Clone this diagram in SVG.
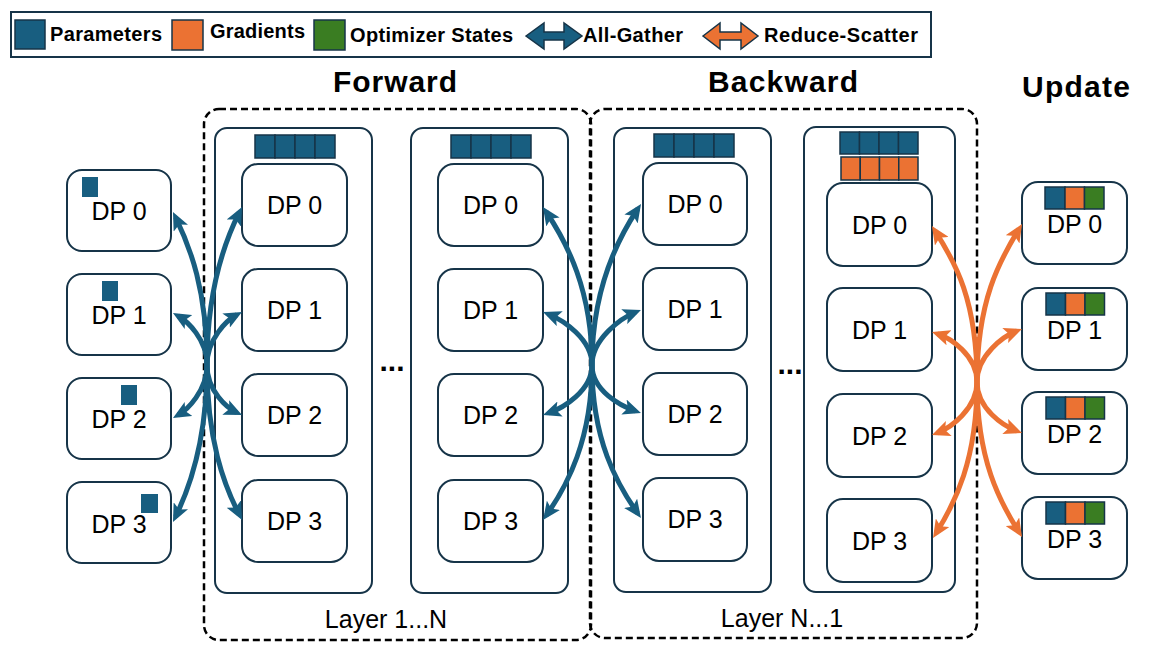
<svg xmlns="http://www.w3.org/2000/svg" width="1163" height="654" viewBox="0 0 1163 654">
<style>
text{font-family:"Liberation Sans",Arial,sans-serif;fill:#000}
.lt{font-size:20px;font-weight:bold}
.ttl{font-size:30px;font-weight:bold;text-anchor:middle}
.dp{font-size:25px;text-anchor:middle}
.lay{font-size:25px;text-anchor:middle}
.dots{font-size:30px;font-weight:bold;text-anchor:middle}
.box{fill:#fff;stroke:#163448;stroke-width:2}
.layer{fill:#fff;stroke:#163448;stroke-width:2}
.dash{fill:none;stroke:#000;stroke-width:2.5;stroke-dasharray:7 4}
.p{fill:#185e80;stroke:#163448;stroke-width:1.5}
.g{fill:#eb7233;stroke:#163448;stroke-width:1.5}
.o{fill:#3a7d22;stroke:#163448;stroke-width:1.5}
.ps{fill:#185e80}
.ab{fill:none;stroke:#185e80;stroke-width:5;marker-end:url(#hb)}
.ao{fill:none;stroke:#eb7233;stroke-width:5;marker-end:url(#ho)}
</style>
<defs>
<marker id="hb" markerUnits="userSpaceOnUse" markerWidth="18" markerHeight="16" refX="12" refY="8" orient="auto" viewBox="0 0 18 16"><path d="M0,0 L18,8 L0,16 L4,8 z" fill="#185e80"/></marker>
<marker id="ho" markerUnits="userSpaceOnUse" markerWidth="18" markerHeight="16" refX="12" refY="8" orient="auto" viewBox="0 0 18 16"><path d="M0,0 L18,8 L0,16 L4,8 z" fill="#eb7233"/></marker>
</defs>
<rect width="1163" height="654" fill="#fff"/>

<g id="legend">
<rect x="11" y="12" width="920" height="45" fill="#fff" stroke="#163448" stroke-width="2"/>
<rect class="p" x="15" y="20" width="30" height="29"/>
<text class="lt" x="50" y="41" textLength="112">Parameters</text>
<rect class="g" x="172" y="20" width="31" height="30"/>
<text class="lt" x="210" y="38" textLength="95">Gradients</text>
<rect class="o" x="314" y="20" width="31" height="30"/>
<text class="lt" x="350" y="42" textLength="163">Optimizer States</text>
<polygon points="526,36 544,23 544,32 564,32 564,23 582,36 564,49 564,40 544,40 544,49" fill="#185e80" stroke="#163448" stroke-width="1.5"/>
<text class="lt" x="583" y="42" textLength="100">All-Gather</text>
<polygon points="703,36 720,23 720,32 741,32 741,23 758,36 741,49 741,40 720,40 720,49" fill="#eb7233" stroke="#163448" stroke-width="1.5"/>
<text class="lt" x="764" y="42" textLength="154">Reduce-Scatter</text>
</g>

<g id="titles">
<text class="ttl" x="395" y="92" textLength="124">Forward</text>
<text class="ttl" x="783" y="92" textLength="150">Backward</text>
<text class="ttl" x="1076" y="97" textLength="108">Update</text>
</g>

<g id="forward-group">
<rect class="dash" x="204" y="109" width="387" height="531" rx="15"/>
<text class="lay" x="386" y="628">Layer 1...N</text>
</g>
<g id="backward-group">
<rect class="dash" x="590" y="109" width="387" height="529" rx="15"/>
<text class="lay" x="782" y="627">Layer N...1</text>
</g>

<g id="fwd-layer1">
<rect class="layer" x="215" y="128" width="157" height="465" rx="12"/>
<rect class="p" x="255" y="135" width="20" height="23"/><rect class="p" x="275" y="135" width="20" height="23"/><rect class="p" x="295" y="135" width="20" height="23"/><rect class="p" x="315" y="135" width="20" height="23"/>
</g>
<g id="fwd-layerN">
<rect class="layer" x="411" y="128" width="157" height="465" rx="12"/>
<rect class="p" x="451" y="135" width="20" height="23"/><rect class="p" x="471" y="135" width="20" height="23"/><rect class="p" x="491" y="135" width="20" height="23"/><rect class="p" x="511" y="135" width="20" height="23"/>
</g>
<g id="bwd-layerN">
<rect class="layer" x="614" y="128" width="157" height="464" rx="12"/>
<rect class="p" x="654" y="134" width="20" height="23"/><rect class="p" x="674" y="134" width="20" height="23"/><rect class="p" x="694" y="134" width="20" height="23"/><rect class="p" x="714" y="134" width="20" height="23"/>
</g>
<g id="bwd-layer1">
<rect class="layer" x="804" y="127" width="151" height="465" rx="12"/>
<rect class="p" x="840" y="132" width="19.5" height="22"/><rect class="p" x="859.5" y="132" width="19.5" height="22"/><rect class="p" x="879" y="132" width="19.5" height="22"/><rect class="p" x="898.5" y="132" width="19.5" height="22"/>
<rect class="g" x="841" y="157" width="19.25" height="23"/><rect class="g" x="860.25" y="157" width="19.25" height="23"/><rect class="g" x="879.5" y="157" width="19.25" height="23"/><rect class="g" x="898.75" y="157" width="19.25" height="23"/>
</g>

<g id="ellipses">
<text class="dots" x="392" y="371">...</text>
<text class="dots" x="790" y="374">...</text>
</g>

<g id="left-dp0"><rect class="box" x="67" y="170" width="104" height="81" rx="15"/><rect class="ps" x="82" y="177" width="16" height="20"/><text class="dp" x="119" y="220">DP 0</text></g>
<g id="left-dp1"><rect class="box" x="67" y="274" width="104" height="81" rx="15"/><rect class="ps" x="102" y="281" width="16" height="20"/><text class="dp" x="119" y="324">DP 1</text></g>
<g id="left-dp2"><rect class="box" x="67" y="378" width="104" height="81" rx="15"/><rect class="ps" x="121" y="385" width="16" height="20"/><text class="dp" x="119" y="428">DP 2</text></g>
<g id="left-dp3"><rect class="box" x="67" y="482" width="104" height="81" rx="15"/><rect class="ps" x="141" y="494" width="17" height="19"/><text class="dp" x="119" y="533">DP 3</text></g>

<g id="f1-dp0"><rect class="box" x="242" y="164" width="105" height="82" rx="16"/><text class="dp" x="294.5" y="214">DP 0</text></g>
<g id="f1-dp1"><rect class="box" x="242" y="269" width="105" height="82" rx="16"/><text class="dp" x="294.5" y="319">DP 1</text></g>
<g id="f1-dp2"><rect class="box" x="242" y="374" width="105" height="82" rx="16"/><text class="dp" x="294.5" y="424">DP 2</text></g>
<g id="f1-dp3"><rect class="box" x="242" y="480" width="105" height="82" rx="16"/><text class="dp" x="294.5" y="530">DP 3</text></g>

<g id="fN-dp0"><rect class="box" x="438" y="164" width="105" height="82" rx="16"/><text class="dp" x="490.5" y="214">DP 0</text></g>
<g id="fN-dp1"><rect class="box" x="438" y="269" width="105" height="82" rx="16"/><text class="dp" x="490.5" y="319">DP 1</text></g>
<g id="fN-dp2"><rect class="box" x="438" y="374" width="105" height="82" rx="16"/><text class="dp" x="490.5" y="424">DP 2</text></g>
<g id="fN-dp3"><rect class="box" x="438" y="480" width="105" height="82" rx="16"/><text class="dp" x="490.5" y="530">DP 3</text></g>

<g id="bN-dp0"><rect class="box" x="643" y="163" width="104" height="82" rx="16"/><text class="dp" x="695" y="213">DP 0</text></g>
<g id="bN-dp1"><rect class="box" x="643" y="268" width="104" height="82" rx="16"/><text class="dp" x="695" y="318">DP 1</text></g>
<g id="bN-dp2"><rect class="box" x="643" y="373" width="104" height="82" rx="16"/><text class="dp" x="695" y="423">DP 2</text></g>
<g id="bN-dp3"><rect class="box" x="643" y="478" width="104" height="83" rx="16"/><text class="dp" x="695" y="528">DP 3</text></g>

<g id="b1-dp0"><rect class="box" x="827" y="183" width="105" height="83" rx="16"/><text class="dp" x="879.5" y="234">DP 0</text></g>
<g id="b1-dp1"><rect class="box" x="827" y="288" width="105" height="83" rx="16"/><text class="dp" x="879.5" y="339">DP 1</text></g>
<g id="b1-dp2"><rect class="box" x="827" y="394" width="105" height="83" rx="16"/><text class="dp" x="879.5" y="445">DP 2</text></g>
<g id="b1-dp3"><rect class="box" x="827" y="499" width="105" height="83" rx="16"/><text class="dp" x="879.5" y="550">DP 3</text></g>

<g id="u-dp0"><rect class="box" x="1022" y="182" width="105" height="82" rx="16"/><rect class="p" x="1045" y="187" width="20" height="22"/><rect class="g" x="1065" y="187" width="19.5" height="22"/><rect class="o" x="1084.5" y="187" width="19.5" height="22"/><text class="dp" x="1074.5" y="233">DP 0</text></g>
<g id="u-dp1"><rect class="box" x="1022" y="288" width="105" height="82" rx="16"/><rect class="p" x="1046" y="293" width="19.5" height="22"/><rect class="g" x="1065.5" y="293" width="19.5" height="22"/><rect class="o" x="1085" y="293" width="19.5" height="22"/><text class="dp" x="1074.5" y="339">DP 1</text></g>
<g id="u-dp2"><rect class="box" x="1022" y="392" width="105" height="82" rx="16"/><rect class="p" x="1046" y="397" width="19.5" height="22"/><rect class="g" x="1065.5" y="397" width="19.5" height="22"/><rect class="o" x="1085" y="397" width="19.5" height="22"/><text class="dp" x="1074.5" y="443">DP 2</text></g>
<g id="u-dp3"><rect class="box" x="1022" y="497" width="105" height="82" rx="16"/><rect class="p" x="1046" y="502" width="19.5" height="22"/><rect class="g" x="1065.5" y="502" width="19.5" height="22"/><rect class="o" x="1085" y="502" width="19.5" height="22"/><text class="dp" x="1074.5" y="548">DP 3</text></g>

<g id="connectors">
<path class="ab" d="M207,365 C207,290 190,247 175.6,217.4"/>
<path class="ab" d="M207,365 C207,290 224,243 239.3,212.4"/>
<path class="ab" d="M207,365 C207,339 187,321 178.2,316"/>
<path class="ab" d="M207,365 C207,339 227,320 236.7,314.8"/>
<path class="ab" d="M207,365 C207,391 187,410 178.2,415"/>
<path class="ab" d="M207,365 C207,391 227,408 236.6,412.5"/>
<path class="ab" d="M207,365 C207,440 190,487 175.6,516.6"/>
<path class="ab" d="M207,365 C207,440 224,485 239.3,514.7"/>

<path class="ab" d="M592,365 C592,290 567,243 546.3,212"/>
<path class="ab" d="M592,365 C592,290 617,240 637.7,209"/>
<path class="ab" d="M592,365 C592,339 563,320 548.6,314.2"/>
<path class="ab" d="M592,365 C592,339 621,318 635.4,312.2"/>
<path class="ab" d="M592,365 C592,391 563,408 548.7,413"/>
<path class="ab" d="M592,365 C592,391 621,406 635.3,411"/>
<path class="ab" d="M592,365 C592,440 567,486 546.5,515.1"/>
<path class="ab" d="M592,365 C592,440 617,484 637.5,513.1"/>

<path class="ao" d="M977,382 C977,300 955,262 935.2,231.1"/>
<path class="ao" d="M977,382 C977,300 1000,260 1018.9,229.1"/>
<path class="ao" d="M977,382 C977,355 950,338 937.7,333.9"/>
<path class="ao" d="M977,382 C977,355 1004,336 1016.4,331.2"/>
<path class="ao" d="M977,382 C977,409 950,428 937.6,432.8"/>
<path class="ao" d="M977,382 C977,409 1004,426 1016.4,430.8"/>
<path class="ao" d="M977,382 C977,460 955,503 936.2,532.9"/>
<path class="ao" d="M977,382 C977,460 1000,502 1018.8,531.9"/>
</g>
</svg>
